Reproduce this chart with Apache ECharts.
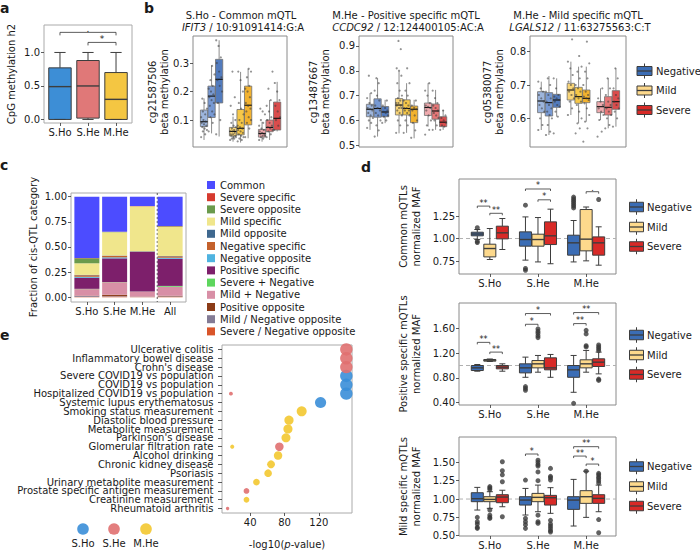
<!DOCTYPE html>
<html><head><meta charset="utf-8">
<script src="https://cdn.jsdelivr.net/npm/echarts@6/dist/echarts.min.js"></script>
<style>html,body{margin:0;padding:0;background:#fff}#c{width:700px;height:550px}</style>
</head><body><div id="c"></div>
<script>
// ---------------- DATA ----------------
// panel a
const aGroups = ['S.Ho', 'S.He', 'M.He'];
const aBox = [[0, 0, 0.49, 0.77, 1.0], [0, 0.02, 0.50, 0.88, 1.0], [0, 0, 0.30, 0.70, 1.0]];
const aSig = [[0, 2, 1.30, '.'], [1, 2, 1.15, '*']];

// panel b  (order: Negative x3 genotypes, Mild x3, Severe x3) [min,q1,median,q3,max]
const bHues = ['Negative', 'Mild', 'Severe'];
const b1Title = 'S.Ho - Common mQTL', b1Gene = 'IFIT3', b1Snp = ' / 10:91091414:G:A', b1Cpg = 'cg21587506';
const b2Title = 'M.He - Positive specific mQTL', b2Gene = 'CCDC92', b2Snp = ' / 12:124400105:AC:A', b2Cpg = 'cg13487667';
const b3Title = 'M.He - Mild specific mQTL', b3Gene = 'LGALS12', b3Snp = ' / 11:63275563:C:T', b3Cpg = 'cg05380077';
const b1Box = [[0.03,0.077,0.094,0.135,0.176],[0.053,0.109,0.184,0.219,0.292],[0.042,0.16,0.243,0.313,0.38],
  [0.024,0.044,0.06,0.074,0.112],[0.021,0.048,0.071,0.137,0.269],[0.036,0.083,0.152,0.219,0.28],
  [0.024,0.04,0.053,0.067,0.094],[0.03,0.059,0.074,0.1,0.17],[0.06,0.065,0.106,0.163,0.234]];
const b1Pts = [
  [0.04,0.05,0.06,0.065,0.07,0.075,0.08,0.085,0.09,0.095,0.1,0.11,0.12,0.13,0.14,0.16,0.175],
  [0.06,0.09,0.11,0.12,0.13,0.15,0.16,0.17,0.18,0.19,0.2,0.21,0.22,0.24,0.26,0.29],
  [0.05,0.1,0.16,0.2,0.22,0.24,0.25,0.27,0.3,0.32,0.36,0.38],
  [0.03,0.035,0.035,0.04,0.04,0.045,0.045,0.05,0.05,0.055,0.06,0.06,0.065,0.07,0.075,0.08,0.09,0.1,0.12,0.15,0.18,0.27],
  [0.025,0.03,0.035,0.04,0.045,0.05,0.055,0.06,0.065,0.07,0.075,0.08,0.09,0.1,0.12,0.14,0.16,0.2,0.24,0.27],
  [0.04,0.07,0.09,0.1,0.11,0.13,0.14,0.15,0.16,0.18,0.2,0.21,0.22,0.25,0.27,0.28],
  [0.03,0.035,0.04,0.045,0.045,0.05,0.05,0.055,0.06,0.065,0.07,0.08,0.09,0.1,0.12,0.13,0.14],
  [0.04,0.05,0.06,0.065,0.07,0.075,0.08,0.09,0.1,0.11,0.13,0.15,0.17,0.21,0.27],
  [0.065,0.08,0.1,0.11,0.13,0.15,0.17,0.2,0.23]];
const b2Box = [[0.562,0.615,0.645,0.665,0.71],[0.535,0.613,0.648,0.687,0.77],[0.589,0.615,0.634,0.656,0.683],
  [0.548,0.622,0.662,0.688,0.797],[0.55,0.622,0.648,0.683,0.75],[0.528,0.591,0.645,0.658,0.683],
  [0.575,0.62,0.652,0.67,0.75],[0.562,0.605,0.638,0.666,0.723],[0.562,0.575,0.593,0.615,0.642]];
const b2Pts = [
  [0.57,0.59,0.6,0.61,0.62,0.63,0.64,0.645,0.65,0.66,0.67,0.69,0.71,0.78],
  [0.535,0.56,0.58,0.6,0.62,0.63,0.64,0.65,0.66,0.68,0.7,0.72,0.75,0.77],
  [0.59,0.6,0.615,0.62,0.63,0.635,0.64,0.65,0.66,0.68],
  [0.55,0.58,0.6,0.62,0.63,0.64,0.65,0.65,0.66,0.66,0.67,0.67,0.68,0.69,0.7,0.72,0.75,0.78,0.8,0.81,0.887,0.92],
  [0.55,0.58,0.6,0.62,0.63,0.64,0.64,0.65,0.65,0.66,0.67,0.68,0.7,0.72,0.75,0.81],
  [0.53,0.56,0.59,0.6,0.62,0.64,0.645,0.65,0.66,0.68],
  [0.543,0.562,0.58,0.6,0.62,0.64,0.65,0.655,0.66,0.67,0.7,0.72,0.75],
  [0.562,0.58,0.6,0.61,0.62,0.63,0.64,0.65,0.66,0.67,0.69,0.72],
  [0.562,0.575,0.58,0.59,0.6,0.61,0.62,0.64]];
const b3Box = [[0.565,0.617,0.652,0.68,0.71],[0.55,0.607,0.647,0.677,0.727],[0.605,0.633,0.655,0.672,0.72],
  [0.61,0.655,0.685,0.705,0.77],[0.585,0.645,0.665,0.693,0.755],[0.59,0.647,0.66,0.685,0.755],
  [0.595,0.617,0.635,0.65,0.69],[0.57,0.61,0.633,0.665,0.72],[0.575,0.627,0.65,0.683,0.75]];
const b3Pts = [
  [0.565,0.58,0.6,0.62,0.63,0.64,0.65,0.66,0.67,0.68,0.69,0.71],
  [0.55,0.56,0.58,0.6,0.61,0.62,0.63,0.64,0.65,0.66,0.67,0.68,0.7,0.72],
  [0.555,0.605,0.62,0.635,0.64,0.65,0.655,0.66,0.665,0.67,0.69,0.72],
  [0.61,0.63,0.65,0.66,0.67,0.68,0.69,0.7,0.71,0.73,0.75,0.77,0.837],
  [0.555,0.57,0.585,0.6,0.62,0.64,0.65,0.66,0.67,0.68,0.69,0.7,0.72,0.74,0.755,0.787],
  [0.53,0.57,0.59,0.61,0.63,0.645,0.655,0.66,0.665,0.67,0.68,0.7,0.72,0.74,0.765,0.83],
  [0.545,0.56,0.595,0.61,0.62,0.63,0.64,0.65,0.66,0.69],
  [0.57,0.58,0.6,0.61,0.62,0.63,0.64,0.65,0.67,0.69,0.72],
  [0.575,0.6,0.62,0.63,0.64,0.65,0.66,0.67,0.69,0.72,0.75]];

// panel c  (fractions per category: S.Ho, S.He, M.He, All)
const cCats = ['S.Ho', 'S.He', 'M.He', 'All'];
const cNames = ['Common','Severe specific','Severe opposite','Mild specific','Mild opposite','Negative specific',
  'Negative opposite','Positive specific','Severe + Negative','Mild + Negative','Positive opposite',
  'Mild / Negative opposite','Severe / Negative opposite'];
const cCommon      = [0.609, 0.348, 0.093, 0.291];
const cSevSpec     = [0.003, 0.002, 0.002, 0.003];
const cSevOpp      = [0.050, 0.003, 0.000, 0.006];
const cMildSpec    = [0.115, 0.232, 0.447, 0.289];
const cMildOpp     = [0.004, 0.003, 0.003, 0.004];
const cNegSpec     = [0.015, 0.015, 0.002, 0.014];
const cNegOpp      = [0.010, 0.010, 0.001, 0.010];
const cPosSpec     = [0.110, 0.235, 0.394, 0.270];
const cSevNeg      = [0.003, 0.002, 0.001, 0.008];
const cMildNeg     = [0.065, 0.125, 0.050, 0.090];
const cPosOpp      = [0.004, 0.012, 0.003, 0.006];
const cMildNegOpp  = [0.008, 0.005, 0.002, 0.005];
const cSevNegOpp   = [0.004, 0.008, 0.002, 0.004];
const cValues = [cCommon,cSevSpec,cSevOpp,cMildSpec,cMildOpp,cNegSpec,cNegOpp,cPosSpec,cSevNeg,cMildNeg,cPosOpp,cMildNegOpp,cSevNegOpp];
const cDivider = 2.5; // dashed separator between M.He and All

// panel d  ([min,q1,median,q3,max] for S.Ho, S.He, M.He)
const dGroups = ['S.Ho', 'S.He', 'M.He'];
const dHues = ['Negative', 'Mild', 'Severe'];
const dRef = 1.0;
const d1Title = ['Common mQTLs', 'normalized MAF'];
const d1Neg  = [[0.99,1.03,1.05,1.07,1.10],[0.76,0.915,0.989,1.074,1.24],[0.74,0.815,0.952,1.037,1.20]];
const d1Mild = [[0.767,0.796,0.889,0.937,1.111],[0.74,0.915,0.989,1.048,1.233],[0.752,0.863,0.993,1.322,1.35]];
const d1Sev  = [[0.878,0.996,1.063,1.137,1.222],[0.72,0.933,1.03,1.185,1.326],[0.704,0.815,0.952,1.018,1.13]];
const d1NegOut  = [[1.12,0.97,0.955],[1.37,0.667,0.648],[1.46,1.44,1.42,1.40,1.38,1.36,1.34]];
const d1MildOut = [[],[],[]];
const d1SevOut  = [[],[],[1.433]];
const d1Sig = [[0,0,1,1.36,'**'],[0,1,2,1.28,'**'],[1,0,2,1.55,'*'],[1,1,2,1.43,'*'],[2,1,2,1.52,'.']];

const d2Title = ['Positive specific mQTLs', 'normalized MAF'];
const d2Neg  = [[0.908,0.919,0.962,1.0,1.016],[0.81,0.881,0.962,1.027,1.135],[0.568,0.81,0.93,1.0,1.162]];
const d2Mild = [[1.065,1.07,1.086,1.097,1.105],[0.892,0.962,1.027,1.08,1.162],[0.892,0.962,1.027,1.092,1.243]];
const d2Sev  = [[0.908,0.946,0.973,1.0,1.027],[0.81,0.93,0.962,1.124,1.178],[0.865,0.984,1.054,1.108,1.216]];
const d2NegOut  = [[],[0.66,0.63,0.6],[0.39]];
const d2MildOut = [[],[1.59,1.55,1.52,1.48,1.45],[1.567,1.51,1.32,1.30]];
const d2SevOut  = [[],[],[1.33,1.30,1.27,1.24,0.78,0.76]];
const d2Sig = [[0,0,1,1.373,'**'],[0,1,2,1.216,'**'],[1,0,1,1.665,'*'],[1,0,2,1.838,'*'],[2,0,1,1.676,'**'],[2,0,2,1.854,'**']];

const d3Title = ['Mild specific mQTLs', 'normalized MAF'];
const d3Neg  = [[0.85,0.964,1.005,1.086,1.159],[0.782,0.918,0.986,1.032,1.145],[0.632,0.859,0.986,1.032,1.268]];
const d3Mild = [[0.873,0.964,0.995,1.032,1.10],[0.827,0.964,1.023,1.077,1.19],[0.75,0.941,1.032,1.114,1.38]];
const d3Sev  = [[0.895,0.95,1.027,1.059,1.12],[0.805,0.918,1.018,1.05,1.155],[0.827,0.941,1.009,1.059,1.19]];
const d3NegOut  = [[0.75,0.69,0.66,0.614,0.6],[1.259,0.736,0.69,0.65,0.6],[]];
const d3MildOut = [[1.17,1.15,1.13,0.85,0.78,0.75,0.736],[1.53,1.5,1.47,1.45,1.37,1.25,0.78,0.69,0.67],[1.38]];
const d3SevOut  = [[1.509,1.386,1.33,1.236,0.759],[1.418,1.31,1.29,1.26,0.71,0.66,0.63,0.6,0.57,0.55],[1.35,1.33,1.3,1.28,1.25,1.22,0.72,0.54]];
const d3Sig = [[1,0,1,1.614,'*'],[2,0,1,1.586,'**'],[2,0,2,1.714,'**'],[2,1,2,1.477,'*']];

// panel e  (-log10 p-value)
const eTraits = ['Ulcerative colitis','Inflammatory bowel disease',"Crohn's disease",'Severe COVID19 vs population',
  'COVID19 vs population','Hospitalized COVID19 vs population','Systemic lupus erythematosus','Smoking status measurement',
  'Diastolic blood pressure','Metabolite measurement',"Parkinson's disease",'Glomerular filtration rate','Alcohol drinking',
  'Chronic kidney disease','Psoriasis','Urinary metabolite measurement','Prostate specific antigen measurement',
  'Creatinine measurement','Rheumatoid arthritis'];
const eGroups = ['S.Ho', 'S.He', 'M.He'];
const eSHo = [['Severe COVID19 vs population',152],['COVID19 vs population',152],['Hospitalized COVID19 vs population',152],['Systemic lupus erythematosus',122]];
const eSHe = [['Ulcerative colitis',152],['Inflammatory bowel disease',152],["Crohn's disease",152],['Hospitalized COVID19 vs population',17.6],
  ['Glomerular filtration rate',74],['Prostate specific antigen measurement',35.7],['Rheumatoid arthritis',13.7]];
const eMHe = [['Smoking status measurement',100],['Diastolic blood pressure',85.2],['Metabolite measurement',84],["Parkinson's disease",81.7],
  ['Glomerular filtration rate',19.1],['Alcohol drinking',72.5],['Chronic kidney disease',64.3],['Psoriasis',60.9],
  ['Urinary metabolite measurement',47.3],['Creatinine measurement',35.7]];

// ---------------- STYLE ----------------
const FONT = 'DejaVu Sans';
const TXT = '#1a1a1a';
const aColors = ['#3d8ed6', '#e07878', '#f4c642'];
const bFill = [
  ['rgba(140,168,214,0.85)', 'rgba(95,135,203,0.85)', 'rgba(52,100,178,0.85)'],
  ['rgba(248,206,95,0.85)', 'rgba(246,190,40,0.85)', 'rgba(240,164,10,0.85)'],
  ['rgba(236,155,160,0.85)', 'rgba(226,95,95,0.85)', 'rgba(211,45,45,0.85)']];
const dColors = ['#3b6db5', '#fdd98c', '#d82a27'];
const cColors = ['#4c4cff','#d63a2f','#6a9a4c','#f0e68c','#3f688f','#c4612c','#4fb3e0','#7d1f6b','#5dd65d','#d88fa6','#8b3b17','#837b95','#d9552a'];
const eColors = ['#3a8ed8', '#e07070', '#f3c830'];
const B_STEP = 0.26, D_STEP = 0.26;

// ---------------- HELPERS ----------------
function G(l, t, r, b, border) {
  return {left: l, top: t, width: r - l, height: b - t, show: !!border, borderColor: border || 'transparent', borderWidth: border ? 1 : 0,
    backgroundColor: 'transparent', containLabel: false, outerBoundsMode: 'none'};
}
function VA(gi, min, max, ticks, fmt, margin) {
  const has = !!(ticks && ticks.length);
  return {type: 'value', gridIndex: gi, min: min, max: max, show: true,
    axisLine: {show: false, onZero: false}, splitLine: {show: false},
    axisTick: {show: has, length: 3, customValues: has ? ticks : undefined, lineStyle: {color: '#333', width: 0.8}},
    axisLabel: {show: has, customValues: has ? ticks : undefined, formatter: fmt, fontSize: 10, color: TXT,
      fontFamily: FONT, margin: margin || 4}};
}
function T(x, y, text, o) {
  o = o || {};
  const align = o.align || 'center', va = o.va || 'middle';
  const st = {text: text, fontSize: o.size || 10, fontFamily: FONT, fontWeight: o.weight || 'normal',
    fontStyle: o.fstyle || 'normal', fill: o.color || TXT, align: align, verticalAlign: va,
    textAlign: align, textVerticalAlign: va};
  if (o.rich) st.rich = o.rich;
  return {type: 'text', x: x, y: y, rotation: o.rot || 0, z: 20, silent: true, style: st};
}
function boxSeries(gi, items, width, stroke, lw, medStroke, capFrac) {
  return {
    type: 'custom', xAxisIndex: gi, yAxisIndex: gi, z: 3, silent: true,
    data: items.map(function (it) { return [it.x].concat(it.v); }),
    renderItem: function (params, api) {
      const it = items[params.dataIndex];
      const x = api.value(0);
      const p = [1, 2, 3, 4, 5].map(function (k) { return api.coord([x, api.value(k)]); });
      const cx = p[0][0];
      const hw = api.size([width, 0])[0] / 2;
      const ls = {stroke: stroke, lineWidth: lw};
      const ch = [
        {type: 'line', shape: {x1: cx, y1: p[0][1], x2: cx, y2: p[1][1]}, style: ls},
        {type: 'line', shape: {x1: cx, y1: p[3][1], x2: cx, y2: p[4][1]}, style: ls},
        {type: 'rect', shape: {x: cx - hw, y: p[3][1], width: 2 * hw, height: p[1][1] - p[3][1]},
          style: {fill: it.color, stroke: stroke, lineWidth: lw}},
        {type: 'line', shape: {x1: cx - hw, y1: p[2][1], x2: cx + hw, y2: p[2][1]}, style: {stroke: medStroke, lineWidth: lw * 1.4}}
      ];
      if (capFrac > 0) {
        const cw = hw * capFrac;
        ch.push({type: 'line', shape: {x1: cx - cw, y1: p[0][1], x2: cx + cw, y2: p[0][1]}, style: ls});
        ch.push({type: 'line', shape: {x1: cx - cw, y1: p[4][1], x2: cx + cw, y2: p[4][1]}, style: ls});
      }
      return {type: 'group', children: ch};
    }
  };
}
function sigSeries(gi, items, tick, fs) {
  return {
    type: 'custom', xAxisIndex: gi, yAxisIndex: gi, z: 5, silent: true,
    data: items.map(function (it) { return [it.x1, it.y, it.x2]; }),
    renderItem: function (params, api) {
      const it = items[params.dataIndex];
      const a = api.coord([api.value(0), api.value(1)]);
      const b = api.coord([api.value(2), api.value(1)]);
      return {type: 'group', children: [
        {type: 'polyline', shape: {points: [[a[0], a[1] + tick], [a[0], a[1]], [b[0], b[1]], [b[0], b[1] + tick]]},
          style: {stroke: '#333', lineWidth: 0.8, fill: null}},
        {type: 'text', x: (a[0] + b[0]) / 2, y: a[1] + 1, style: {text: it.label, fontSize: fs, fontFamily: FONT, fill: TXT,
          align: 'center', verticalAlign: 'bottom', textAlign: 'center', textVerticalAlign: 'bottom'}}
      ]};
    }
  };
}
// full-width / full-height dashed reference line drawn through the axis scale
function refLine(xi, yi, dir, value, color, dash) {
  return {
    type: 'custom', xAxisIndex: xi, yAxisIndex: yi, z: 2, silent: true,
    data: [[value, value]],
    renderItem: function (params, api) {
      const cs = params.coordSys;
      let shape;
      if (dir === 'h') {
        const y = api.coord([0, api.value(1)])[1];
        shape = {x1: cs.x, y1: y, x2: cs.x + cs.width, y2: y};
      } else {
        const x = api.coord([api.value(0), 0])[0];
        shape = {x1: x, y1: cs.y, x2: x, y2: cs.y + cs.height};
      }
      return {type: 'line', shape: shape, style: {stroke: color, lineWidth: 1, lineDash: dash}};
    }
  };
}
function jit(i) { return ((i * 7) % 11) / 10 - 0.5; }

function bPanel(gi, boxes, pts) {
  const items = [], sp = [];
  boxes.forEach(function (v, k) {
    const g = Math.floor(k / 3), s = k % 3;
    const x = g + (s - 1) * B_STEP;
    items.push({x: x, v: v, color: bFill[g][s]});
    pts[k].forEach(function (y, i) { sp.push([x + jit(i) * 0.2, y]); });
  });
  return [boxSeries(gi, items, 0.25, '#707070', 0.8, '#111', 0),
    {type: 'scatter', xAxisIndex: gi, yAxisIndex: gi, data: sp, symbolSize: 2.2, z: 4, silent: true,
      itemStyle: {color: '#3a3a3a', opacity: 0.55}}];
}
function dPanel(gi, boxes, outs, sig) {
  const items = [], pts = [];
  boxes.forEach(function (hb, h) {
    hb.forEach(function (v, g) {
      const x = g + (h - 1) * D_STEP;
      items.push({x: x, v: v, color: dColors[h]});
      outs[h][g].forEach(function (o) { pts.push([x, o]); });
    });
  });
  const sigItems = sig.map(function (s) {
    return {x1: s[0] + (s[1] - 1) * D_STEP, x2: s[0] + (s[2] - 1) * D_STEP, y: s[3], label: s[4]};
  });
  return [
    refLine(gi, gi, 'h', dRef, '#b0b0b0', [4, 3]),
    {type: 'scatter', xAxisIndex: gi, yAxisIndex: gi, data: pts, symbolSize: 5, z: 4, silent: true,
      itemStyle: {color: '#3a3a3a'}},
    boxSeries(gi, items, 0.25, '#3d3d3d', 1, '#3d3d3d', 0.5),
    sigSeries(gi, sigItems, 2, 8)
  ];
}
function patchLegend(x, y, color, label, w, h, tx) {
  return [
    {type: 'line', shape: {x1: x + w / 2, y1: y - h / 2 - 3, x2: x + w / 2, y2: y - h / 2}, style: {stroke: '#3d3d3d', lineWidth: 1}, z: 10},
    {type: 'line', shape: {x1: x + w / 2, y1: y + h / 2, x2: x + w / 2, y2: y + h / 2 + 3}, style: {stroke: '#3d3d3d', lineWidth: 1}, z: 10},
    {type: 'rect', shape: {x: x, y: y - h / 2, width: w, height: h}, style: {fill: color, stroke: '#3d3d3d', lineWidth: 1}, z: 10},
    {type: 'line', shape: {x1: x, y1: y, x2: x + w, y2: y}, style: {stroke: '#3d3d3d', lineWidth: 1.3}, z: 11},
    T(tx, y, label, {align: 'left'})
  ];
}

// ---------------- BUILD ----------------
const grids = [
  G(44, 25, 132, 123, '#aaaaaa'),
  G(193, 36, 287, 147, '#8a8a8a'),
  G(359, 36, 453, 147, '#8a8a8a'),
  G(530, 36, 626, 147, '#8a8a8a'),
  G(71, 193, 186, 302, '#aaaaaa'),
  G(459, 179, 616, 274, '#8a8a8a'),
  G(459, 303, 616, 405, '#8a8a8a'),
  G(459, 437, 616, 536, '#8a8a8a'),
  G(222, 345, 352, 513, '#aaaaaa'),
  G(73, 193, 184, 302, null)           // bars of panel c (inside frame of grid 4)
];
const f1 = function (v) { return v.toFixed(1); };
const f2 = function (v) { return v.toFixed(2); };
const xAxes = [
  VA(0, -0.57, 2.57, [0, 1, 2], function (v) { return aGroups[Math.round(v)]; }),
  VA(1, -0.64, 2.6, null), VA(2, -0.64, 2.6, null), VA(3, -0.64, 2.6, null),
  VA(4, -0.5, 3.5, null),
  VA(5, -0.64, 2.62, [0, 1, 2], function (v) { return dGroups[Math.round(v)]; }),
  VA(6, -0.64, 2.62, [0, 1, 2], function (v) { return dGroups[Math.round(v)]; }),
  VA(7, -0.64, 2.62, [0, 1, 2], function (v) { return dGroups[Math.round(v)]; }),
  VA(8, 7.2, 158.6, [40, 80, 120], function (v) { return String(Math.round(v)); }),
  {type: 'category', gridIndex: 9, data: cCats, boundaryGap: true,
    axisLine: {show: false, onZero: false}, splitLine: {show: false},
    axisTick: {show: true, alignWithLabel: true, length: 3, lineStyle: {color: '#333', width: 0.8}},
    axisLabel: {fontSize: 10, color: TXT, fontFamily: FONT, margin: 4, interval: 0}}
];
const yAxes = [
  VA(0, -0.053, 1.41, [0, 0.5, 1], f1),
  VA(1, 0.0053, 0.395, [0.1, 0.2, 0.3], f1),
  VA(2, 0.493, 0.94, [0.5, 0.6, 0.7, 0.8, 0.9], f1),
  VA(3, 0.514, 0.847, [0.6, 0.7, 0.8], f1),
  VA(4, -0.047, 1.037, [0, 0.25, 0.5, 0.75, 1], f2),
  VA(5, 0.606, 1.661, [0.75, 1, 1.25], f2),
  VA(6, 0.363, 2.008, [0.4, 0.8, 1.2, 1.6], f2),
  VA(7, 0.496, 1.846, [0.5, 0.75, 1, 1.25, 1.5], f2),
  {type: 'category', gridIndex: 8, data: eTraits, inverse: true, boundaryGap: true,
    axisLine: {show: false, onZero: false}, splitLine: {show: false},
    axisTick: {show: true, alignWithLabel: true, length: 4, lineStyle: {color: '#333', width: 0.8}},
    axisLabel: {fontSize: 10, color: TXT, fontFamily: FONT, margin: 8.5, interval: 0}},
  VA(9, -0.047, 1.037, null)
];

let series = [];
// a
series.push(boxSeries(0, aBox.map(function (v, i) { return {x: i, v: v, color: aColors[i]}; }), 0.8, '#3d3d3d', 1, '#3d3d3d', 0.5));
series.push(sigSeries(0, aSig.map(function (s) { return {x1: s[0], x2: s[1], y: s[2], label: s[3]}; }), 3, 9));
// b
series = series.concat(bPanel(1, b1Box, b1Pts), bPanel(2, b2Box, b2Pts), bPanel(3, b3Box, b3Pts));
// c (stack from bottom = last legend entry)
for (let i = cNames.length - 1; i >= 0; i--) {
  series.push({type: 'bar', name: cNames[i], stack: 'c', xAxisIndex: 9, yAxisIndex: 9, barWidth: 25,
    data: cValues[i], itemStyle: {color: cColors[i]}, silent: true});
}
series.push(refLine(4, 4, 'v', cDivider, '#555555', [2, 2]));
// d
series = series.concat(
  dPanel(5, [d1Neg, d1Mild, d1Sev], [d1NegOut, d1MildOut, d1SevOut], d1Sig),
  dPanel(6, [d2Neg, d2Mild, d2Sev], [d2NegOut, d2MildOut, d2SevOut], d2Sig),
  dPanel(7, [d3Neg, d3Mild, d3Sev], [d3NegOut, d3MildOut, d3SevOut], d3Sig));
// e
[eSHo, eSHe, eMHe].forEach(function (arr, k) {
  series.push({type: 'scatter', name: eGroups[k], xAxisIndex: 8, yAxisIndex: 8, z: 4, silent: true,
    data: arr.map(function (d) { return [d[1], d[0]]; }),
    symbolSize: function (val) { return Math.max(3, 1.05 * Math.sqrt(val[0]) - 0.5); },
    itemStyle: {color: eColors[k], opacity: 0.9}});
});

// graphic texts / legends
let gfx = [];
gfx.push(T(0, 8, 'a', {align: 'left', size: 14, weight: 'bold'}));
gfx.push(T(144, 8, 'b', {align: 'left', size: 14, weight: 'bold'}));
gfx.push(T(0, 165, 'c', {align: 'left', size: 14, weight: 'bold'}));
gfx.push(T(361, 167, 'd', {align: 'left', size: 14, weight: 'bold'}));
gfx.push(T(0, 335, 'e', {align: 'left', size: 14, weight: 'bold'}));
// a title
gfx.push(T(11, 74, 'CpG methylation h2', {rot: Math.PI / 2}));
// b titles
const italic = {i: {fontStyle: 'italic', fontSize: 10, fontFamily: FONT, fill: TXT}};
[[241, b1Title, b1Gene, b1Snp, b1Cpg, 152, 164], [406, b2Title, b2Gene, b2Snp, b2Cpg, 313, 325], [578, b3Title, b3Gene, b3Snp, b3Cpg, 487, 499]]
  .forEach(function (b) {
    gfx.push(T(b[0], 15, b[1]));
    gfx.push(T(b[0] + 2, 27, '{i|' + b[2] + '}' + b[3], {rich: italic}));
    gfx.push(T(b[5], 92, b[4], {rot: Math.PI / 2}));
    gfx.push(T(b[6], 92, 'beta methylation', {rot: Math.PI / 2}));
  });
// b legend
bHues.forEach(function (h, i) { gfx = gfx.concat(patchLegend(637, [71, 90.5, 110][i], dColors[i], h, 15, 9, 656)); });
// c title
gfx.push(T(33, 247, 'Fraction of cis-QTL category', {rot: Math.PI / 2}));
// d titles + legends
[[d1Title, 226.5, [207, 227, 246.5]], [d2Title, 354, [335, 355, 374.5]], [d3Title, 486.5, [466.5, 486.5, 506]]].forEach(function (d) {
  gfx.push(T(403.5, d[1], d[0][0], {rot: Math.PI / 2}));
  gfx.push(T(416.5, d[1], d[0][1], {rot: Math.PI / 2}));
  dHues.forEach(function (h, i) { gfx = gfx.concat(patchLegend(629.5, d[2][i], dColors[i], h, 14, 9.5, 647)); });
});
// e axis title and legend
gfx.push(T(287, 544, '-log10({i|p}-value)', {rich: italic}));
eGroups.forEach(function (g, i) {
  const cx = [83, 114, 146][i];
  gfx.push({type: 'circle', shape: {cx: cx, cy: 529, r: 5.8}, style: {fill: eColors[i], opacity: 0.9}, z: 10, silent: true});
  gfx.push(T(cx, 543.5, g));
});

const chart = echarts.init(document.getElementById('c'), null, {renderer: 'svg', width: 700, height: 550});
chart.setOption({
  animation: false,
  backgroundColor: '#ffffff',
  textStyle: {fontFamily: FONT},
  grid: grids,
  xAxis: xAxes,
  yAxis: yAxes,
  legend: {data: cNames, orient: 'vertical', left: 207, top: 180, padding: 0, icon: 'rect',
    itemWidth: 8, itemHeight: 8, itemGap: 2.2, selectedMode: false,
    textStyle: {fontSize: 10, fontFamily: FONT, color: TXT, lineHeight: 8}},
  series: series,
  graphic: gfx
});
</script></body></html>
